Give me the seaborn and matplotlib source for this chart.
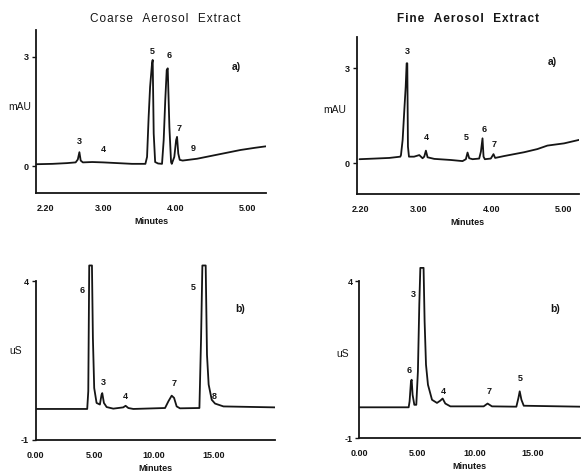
import matplotlib
matplotlib.use("Agg")
import matplotlib.pyplot as plt
import seaborn as sns

# ---- panel a: coarse aerosol extract, UV trace (mAU vs minutes)
coarse_uv_min = [2.08, 2.30, 2.50, 2.62, 2.65, 2.672, 2.69, 2.72, 2.85, 3.00, 3.20, 3.40, 3.585,
                 3.608, 3.63, 3.65, 3.677, 3.686, 3.70, 3.72, 3.76, 3.815, 3.838, 3.86, 3.88,
                 3.894, 3.917, 3.94, 3.95, 3.985, 4.01, 4.023, 4.04, 4.06, 4.10, 4.30, 4.50,
                 4.70, 4.90, 5.10, 5.25]
coarse_uv_mau = [0.05, 0.06, 0.08, 0.10, 0.18, 0.38, 0.15, 0.10, 0.11, 0.10, 0.08, 0.06, 0.06,
                 0.25, 1.35, 2.17, 2.82, 2.91, 0.89, 0.11, 0.07, 0.06, 0.71, 1.81, 2.63,
                 2.68, 1.07, 0.11, 0.06, 0.25, 0.71, 0.80, 0.34, 0.17, 0.15, 0.20, 0.28,
                 0.36, 0.44, 0.50, 0.54]
coarse_uv_peaks = ["3", "4", "5", "6", "7", "9"]
coarse_uv_peak_min = [2.672, 3.00, 3.686, 3.91, 4.05, 4.245]
coarse_uv_peak_mau = [0.68, 0.46, 3.14, 3.02, 1.03, 0.48]

# ---- panel a (right): fine aerosol extract, UV trace
fine_uv_min = [2.19, 2.40, 2.60, 2.751, 2.76, 2.783, 2.806, 2.825, 2.838, 2.847, 2.856, 2.87,
               2.94, 3.012, 3.057, 3.08, 3.103, 3.126, 3.218, 3.447, 3.607, 3.653, 3.676,
               3.699, 3.745, 3.836, 3.86, 3.882, 3.896, 3.914, 3.996, 4.033, 4.056, 4.18,
               4.454, 4.637, 4.775, 5.004, 5.21]
fine_uv_mau = [0.13, 0.15, 0.17, 0.21, 0.26, 0.74, 1.68, 2.42, 3.16, 3.16, 0.53, 0.21,
               0.21, 0.26, 0.16, 0.21, 0.40, 0.19, 0.14, 0.105, 0.07, 0.13, 0.34,
               0.16, 0.13, 0.15, 0.37, 0.79, 0.21, 0.13, 0.15, 0.29, 0.17, 0.23,
               0.35, 0.45, 0.56, 0.63, 0.74]
fine_uv_peaks = ["3", "4", "5", "6", "7"]
fine_uv_peak_min = [2.843, 3.11, 3.66, 3.904, 4.04]
fine_uv_peak_mau = [3.53, 0.82, 0.82, 1.07, 0.60]

# ---- panel b: coarse aerosol extract, conductivity trace (uS vs minutes)
coarse_ic_min = [0.0, 2.0, 4.35, 4.44, 4.52, 4.75, 4.83, 4.94, 5.14, 5.42, 5.56, 5.62, 5.76,
                 5.99, 6.55, 7.39, 7.59, 7.82, 8.24, 10.92, 11.2, 11.48, 11.68, 11.9, 12.18,
                 13.82, 13.96, 14.07, 14.35, 14.46, 14.6, 14.86, 15.14, 15.85, 20.2]
coarse_ic_us = [-0.03, -0.03, -0.03, 0.53, 4.5, 4.5, 2.21, 0.63, 0.16, 0.11, 0.42, 0.47, 0.16,
                0.03, -0.02, 0.02, 0.07, 0.0, -0.03, 0.0, 0.21, 0.39, 0.32, 0.05, -0.01,
                0.0, 2.21, 4.5, 4.5, 1.68, 0.74, 0.26, 0.14, 0.05, 0.02]
coarse_ic_peaks = ["6", "3", "4", "7", "5", "8"]
coarse_ic_peak_min = [3.96, 5.7, 7.54, 11.7, 13.3, 15.06]
coarse_ic_peak_us = [3.71, 0.82, 0.35, 0.77, 3.81, 0.37]

# ---- panel b (right): fine aerosol extract, conductivity trace
fine_ic_min = [0.0, 2.0, 4.27, 4.35, 4.47, 4.53, 4.61, 4.76, 4.93, 5.07, 5.19, 5.28, 5.56,
               5.65, 5.77, 5.94, 6.29, 6.72, 7.0, 7.21, 7.44, 7.88, 10.76, 11.1, 11.48,
               13.59, 13.77, 13.88, 14.03, 14.23, 19.1]
fine_ic_us = [-0.02, -0.02, -0.02, 0.17, 0.81, 0.86, 0.38, 0.06, 0.06, 1.13, 3.26, 4.43, 4.43,
              2.72, 1.34, 0.70, 0.22, 0.12, 0.19, 0.26, 0.10, 0.01, 0.01, 0.10, 0.01,
              0.0, 0.28, 0.49, 0.22, 0.03, 0.0]
fine_ic_peaks = ["6", "3", "4", "7", "5"]
fine_ic_peak_min = [4.32, 4.7, 7.3, 11.25, 13.93]
fine_ic_peak_us = [1.16, 3.57, 0.49, 0.49, 0.89]

uv_ticks = [2.2, 3.0, 4.0, 5.0]
uv_ticklabels = ["2.20", "3.00", "4.00", "5.00"]
ic_ticks = [0, 5, 10, 15]
ic_ticklabels = ["0.00", "5.00", "10.00", "15.00"]

sns.set_theme(style="white")
plt.rcParams["font.family"] = ["Liberation Sans", "DejaVu Sans"]

INK = "#151515"


def spaced(text):
    # the scanned titles are letter-spaced; fake it with hair spaces
    return "\u200a".join(text)


def draw_panel(ax, minutes, signal, peaks, peak_x, peak_y, tag, tag_xy,
               xlim, ylim, ybounds, xticks, xticklabels, yticks, yticklabels,
               ylabel, ylabel_xy):
    sns.lineplot(x=minutes, y=signal, ax=ax, color=INK, linewidth=1.3,
                 estimator=None, sort=False)
    for name, px, py in zip(peaks, peak_x, peak_y):
        ax.text(px, py, name, ha="center", va="center", fontsize=6.5,
                fontweight="bold", color=INK)
    ax.text(tag_xy[0], tag_xy[1], tag, ha="center", va="center", fontsize=7.5,
            fontweight="bold", color=INK)
    ax.set_xlim(*xlim)
    ax.set_ylim(*ylim)
    ax.set_xticks(xticks)
    ax.set_xticklabels(xticklabels)
    ax.set_yticks(yticks)
    ax.set_yticklabels(yticklabels)
    ax.tick_params(axis="x", length=0, pad=8, labelsize=6.5, colors=INK)
    ax.tick_params(axis="y", length=3, width=1, direction="out", pad=2,
                   labelsize=6.5, colors=INK, left=True)
    for lab in ax.get_xticklabels() + ax.get_yticklabels():
        lab.set_fontweight("bold")
    for side in ("top", "right"):
        ax.spines[side].set_visible(False)
    for side in ("left", "bottom"):
        ax.spines[side].set_color(INK)
        ax.spines[side].set_linewidth(1.3)
    ax.spines["left"].set_bounds(*ybounds)
    ax.set_xlabel("Minutes", fontsize=6.5, fontweight="bold", color=INK, labelpad=3)
    ax.set_ylabel(ylabel, fontsize=7.5, color=INK, rotation=0)
    ax.yaxis.set_label_coords(*ylabel_xy)
    ax.set_facecolor("white")


fig = plt.figure(figsize=(5.82, 4.76), dpi=100)
ax_a = fig.add_axes([0.0619, 0.5945, 0.3952, 0.3424])
ax_b = fig.add_axes([0.6129, 0.5924, 0.3820, 0.3305])
ax_c = fig.add_axes([0.0613, 0.0763, 0.4112, 0.3693])
ax_d = fig.add_axes([0.6174, 0.0798, 0.3792, 0.3588])

draw_panel(ax_a, coarse_uv_min, coarse_uv_mau, coarse_uv_peaks, coarse_uv_peak_min,
           coarse_uv_peak_mau, "a)", (4.84, 2.72), (2.072, 5.254), (-0.74, 3.73),
           (-0.74, 3.73), uv_ticks, uv_ticklabels, [0, 3], ["0", "3"], "mAU", (-0.07, 0.5))
draw_panel(ax_b, fine_uv_min, fine_uv_mau, fine_uv_peaks, fine_uv_peak_min,
           fine_uv_peak_mau, "a)", (4.84, 3.21), (2.151, 5.21), (-0.97, 4.0),
           (-0.97, 4.0), uv_ticks, uv_ticklabels, [0, 3], ["0", "3"], "mAU", (-0.10, 0.5))
draw_panel(ax_c, coarse_ic_min, coarse_ic_us, coarse_ic_peaks, coarse_ic_peak_min,
           coarse_ic_peak_us, "b)", (17.3, 3.13), (0.0, 20.2), (-1, 4.55),
           (-1, 4), ic_ticks, ic_ticklabels, [-1, 4], ["-1", "4"], "uS", (-0.085, 0.474))
draw_panel(ax_d, fine_ic_min, fine_ic_us, fine_ic_peaks, fine_ic_peak_min,
           fine_ic_peak_us, "b)", (16.97, 3.12), (0.0, 19.1), (-1, 4.45),
           (-1, 4), ic_ticks, ic_ticklabels, [-1, 4], ["-1", "4"], "uS", (-0.074, 0.46))

fig.text(165 / 582, 1 - 19 / 476, spaced("Coarse  Aerosol  Extract"), ha="center",
         va="center", fontsize=8.5, color=INK)
fig.text(468 / 582, 1 - 19 / 476, spaced("Fine  Aerosol  Extract"), ha="center",
         va="center", fontsize=8.5, color=INK, fontweight="bold")

fig.savefig("out.png", dpi=100, facecolor="white")
